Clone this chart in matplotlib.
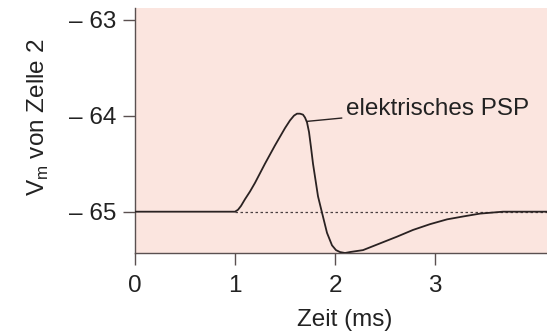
import matplotlib
matplotlib.use("Agg")
import matplotlib.pyplot as plt

plt.rcParams['font.family'] = ['Liberation Sans', 'DejaVu Sans']

# Data
time_ms = [0.0, 1.00, 1.03, 1.06, 1.10, 1.15, 1.20, 1.30, 1.40, 1.50, 1.55, 1.59,
           1.62, 1.65, 1.68, 1.70, 1.72, 1.74, 1.76, 1.78, 1.83, 1.87, 1.92,
           1.97, 2.01, 2.05, 2.10, 2.15, 2.28, 2.45, 2.62, 2.78, 2.95, 3.12,
           3.28, 3.45, 3.68, 3.85, 4.2]
vm = [-65.0, -65.0, -64.98, -64.94, -64.87, -64.79, -64.70, -64.50, -64.31, -64.13,
      -64.05, -64.00, -63.98, -63.98, -63.99, -64.02, -64.07, -64.17, -64.33,
      -64.50, -64.84, -65.01, -65.22, -65.35, -65.40, -65.42, -65.43, -65.42,
      -65.40, -65.33, -65.26, -65.19, -65.13, -65.08, -65.05, -65.02, -65.0,
      -65.0, -65.0]
baseline = -65.0
baseline_start = 1.0
x_ticks = [0, 1, 2, 3]
y_ticks = [-65, -64, -63]
y_tick_labels = ['– 65', '– 64', '– 63']
annotation = 'elektrisches PSP'

fig = plt.figure(figsize=(5.47, 3.36), dpi=100)
ax = fig.add_axes([135 / 547, 1 - 253 / 336, 1 - 135 / 547, 245 / 336])
ax.set_facecolor('#fbe5df')
fig.patch.set_facecolor('white')

ax.set_xlim(0, 4.12)
ax.set_ylim(-65.43, -62.88)

ax.plot(time_ms, vm, color='#2a2222', lw=1.3, zorder=3,
        solid_joinstyle='round', solid_capstyle='round')
ax.plot([baseline_start, 4.12], [baseline, baseline], color='#4a4040', lw=0.9,
        linestyle=(0, (2.0, 2.0)), zorder=2)

for s in ['top', 'right']:
    ax.spines[s].set_visible(False)
for s in ['left', 'bottom']:
    ax.spines[s].set_color('#5a5050')
    ax.spines[s].set_linewidth(1.0)

ax.set_xticks(x_ticks)
ax.set_yticks(y_ticks)
ax.set_yticklabels(y_tick_labels)
ax.tick_params(axis='both', direction='out', length=8.5, width=1.0,
               color='#5a5050', labelsize=17.5, labelcolor='#222222')
ax.tick_params(axis='x', pad=7)
ax.tick_params(axis='y', pad=5)

ax.set_xlabel('Zeit (ms)', fontsize=17.5, color='#222222')
ax.xaxis.set_label_coords((345 - 135) / 412, -(309 - 253) / 245)
ax.set_ylabel('V$_\\mathregular{m}$ von Zelle 2', fontsize=17.5, color='#222222')
ax.yaxis.set_label_coords(-(135 - 51) / 412, (253 - 117) / 245)

ax.annotate(annotation, xy=(1.72, -64.06), xytext=(2.11, -63.93),
            fontsize=17.5, color='#222222', va='center', ha='left',
            arrowprops=dict(arrowstyle='-', color='#2a2222', lw=1.0,
                            shrinkA=1, shrinkB=0))

fig.savefig('out.png', dpi=100)
